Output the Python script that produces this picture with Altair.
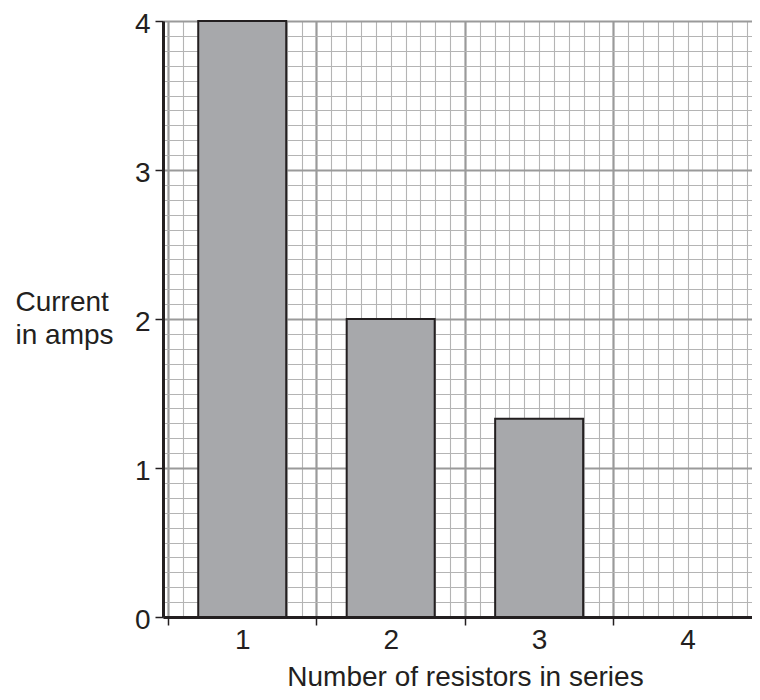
import altair as alt
import pandas as pd

# data
resistors = [1, 2, 3]
current = [4.0, 2.0, 1.33]
x_labels = [1, 2, 3, 4]

df = pd.DataFrame({"n": resistors, "current": current})

# axis tick positions (grid paper)
grid_x = [round(0.5 + 0.1 * i, 2) for i in range(40)]
grid_y = [round(0.1 * i, 2) for i in range(41)]

FONT = "Liberation Sans"
DARK = "#231f20"

is_int = "abs(datum.value - round(datum.value)) < 0.001"
is_half = "abs(datum.value - 0.5 - round(datum.value - 0.5)) < 0.001"

x_axis = alt.Axis(
    values=grid_x,
    grid=True,
    gridColor={"condition": {"test": is_half, "value": "#9a9a9a"}, "value": "#b4b4b4"},
    gridWidth={"condition": {"test": is_half, "value": 2.2}, "value": 1.1},
    domain=True, domainColor=DARK, domainWidth=3,
    ticks=True, tickColor=DARK, tickWidth=1.5, tickSize=8,
    tickOpacity={"condition": {"test": is_half, "value": 1}, "value": 0},
    labelExpr=f"{is_int} ? toString(round(datum.value)) : ''",
    labelFont=FONT, labelFontSize=28, labelColor=DARK, labelPadding=1,
    labelOverlap=False, labelFlush=False, labelBound=False,
    title="Number of resistors in series",
    titleFont=FONT, titleFontSize=28, titleFontWeight="normal", titleColor=DARK,
    titleX=302, titleY=68, titleBaseline="alphabetic", titleAlign="center",
)

y_axis = alt.Axis(
    values=grid_y,
    grid=True,
    gridColor={"condition": {"test": is_int, "value": "#9a9a9a"}, "value": "#b4b4b4"},
    gridWidth={"condition": {"test": is_int, "value": 2.2}, "value": 1.1},
    domain=True, domainColor=DARK, domainWidth=3,
    ticks=True, tickColor=DARK, tickWidth=1.5, tickSize=8,
    tickOpacity={"condition": {"test": is_int, "value": 1}, "value": 0},
    labelExpr=f"{is_int} ? toString(round(datum.value)) : ''",
    labelFont=FONT, labelFontSize=28, labelColor=DARK, labelPadding=5, labelOffset=3,
    labelOverlap=False, labelFlush=False, labelBound=False,
    title=["Current", "in amps"],
    titleFont=FONT, titleFontSize=28, titleFontWeight="normal", titleColor=DARK,
    titleAngle=0, titleAlign="left", titleBaseline="top", titleLineHeight=33,
    titleX=-148, titleY=267,
)

chart = (
    alt.Chart(df)
    .mark_bar(size=88, color="#a7a8ab", stroke=DARK, strokeWidth=2)
    .encode(
        x=alt.X("n:Q", scale=alt.Scale(domain=[0.5, 4.4], nice=False, zero=False), axis=x_axis),
        y=alt.Y("current:Q", scale=alt.Scale(domain=[0, 4], nice=False), axis=y_axis),
    )
    .properties(
        width=589,
        height=596,
        padding={"left": 155, "top": 13, "right": 0, "bottom": 75},
        autosize=alt.AutoSizeParams(type="none"),
    )
    .configure_view(stroke=None)
    .configure(background="white")
)

chart.save("out.html", embed_options={"renderer": "svg", "actions": False})
